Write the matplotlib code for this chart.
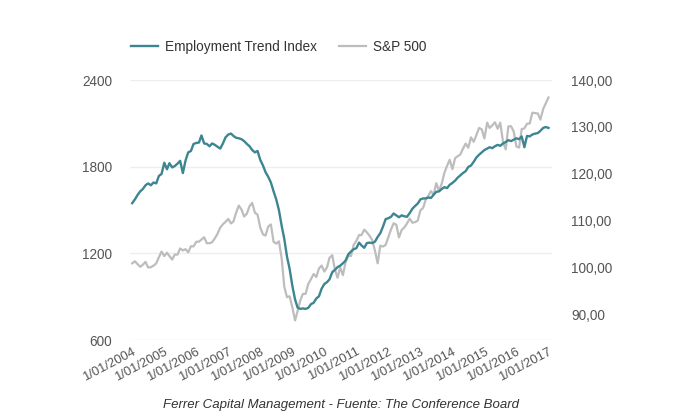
import pandas as pd
import matplotlib
matplotlib.use("Agg")
import matplotlib.pyplot as plt

plt.rcParams['font.family'] = ['Liberation Sans', 'DejaVu Sans']

# monthly data, Jan 2004 .. Jan 2017
dates = pd.date_range("2004-01-01", periods=157, freq="MS")

sp500 = [
    1131, 1145, 1126, 1107, 1121, 1141, 1102, 1104, 1115, 1130, 1174, 1212,
    1181, 1204, 1181, 1157, 1192, 1191, 1234, 1220, 1229, 1207, 1249, 1248,
    1280, 1281, 1295, 1311, 1270, 1270, 1277, 1304, 1336, 1378, 1401, 1418,
    1438, 1407, 1421, 1482, 1531, 1503, 1455, 1474, 1527, 1549, 1481, 1468,
    1379, 1331, 1323, 1386, 1400, 1280, 1267, 1283, 1166, 969, 896, 903,
    826, 735, 798, 873, 919, 919, 987, 1021, 1057, 1036, 1096, 1115,
    1074, 1104, 1169, 1187, 1089, 1031, 1102, 1049, 1141, 1183, 1181, 1258,
    1286, 1327, 1326, 1364, 1345, 1321, 1292, 1219, 1131, 1253, 1247, 1258,
    1312, 1366, 1408, 1398, 1310, 1362, 1379, 1407, 1441, 1412, 1416, 1426,
    1498, 1515, 1569, 1598, 1631, 1606, 1686, 1633, 1682, 1757, 1806, 1848,
    1783, 1859, 1872, 1884, 1924, 1960, 1931, 2003, 1972, 2018, 2068, 2059,
    1995, 2105, 2068, 2086, 2107, 2063, 2104, 1972, 1920, 2079, 2080, 2044,
    1940, 1932, 2060, 2065, 2097, 2099, 2174, 2171, 2168, 2126, 2199, 2239,
    2279,
]

eti = [
    113.8, 114.6, 115.5, 116.3, 116.8, 117.6, 118.0, 117.6, 118.2, 118.0, 119.6, 120.0,
    122.4, 121.0, 122.3, 121.4, 121.7, 122.2, 122.8, 120.2, 122.9, 124.6, 124.9, 126.4,
    126.6, 126.7, 128.2, 126.5, 126.4, 125.9, 126.5, 126.2, 125.8, 125.4, 126.5, 127.8,
    128.4, 128.6, 128.1, 127.7, 127.6, 127.4, 127.0, 126.4, 125.9, 125.1, 124.6, 124.9,
    123.0, 121.8, 120.4, 119.4, 118.2, 116.3, 114.6, 112.3, 109.0, 106.2, 102.4, 99.8,
    96.2, 93.3, 91.6, 91.3, 91.4, 91.3, 91.5, 92.3, 92.6, 93.5, 94.0, 95.6,
    96.6, 97.0, 97.6, 99.1, 99.6, 100.2, 100.5, 101.0, 101.6, 102.9, 103.5, 104.0,
    104.2, 105.4, 104.8, 104.3, 105.3, 105.4, 105.3, 105.6, 106.6, 107.4, 108.8, 110.4,
    110.6, 110.9, 111.6, 111.2, 110.8, 111.2, 111.0, 110.9, 111.7, 112.6, 113.2, 113.7,
    114.6, 114.8, 114.8, 115.0, 114.9, 115.6, 116.2, 116.3, 116.8, 117.2, 117.0, 117.7,
    118.1, 118.6, 119.2, 119.7, 120.2, 120.6, 121.5, 121.8, 122.6, 123.5, 124.1, 124.6,
    125.1, 125.4, 125.7, 125.5, 125.9, 126.2, 126.0, 126.5, 126.8, 127.2, 127.0, 127.3,
    127.6, 127.4, 128.0, 125.7, 128.1, 128.0, 128.4, 128.6, 128.7, 129.2, 129.8, 130.0,
    129.8,
]

tick_years = list(range(2004, 2018))
tick_labels = ["1/01/%d" % y for y in tick_years]
left_ticks = [600, 1200, 1800, 2400]
right_ticks = [90, 100, 110, 120, 130, 140]

teal = "#3c8591"
grey = "#bdbdbd"
txt = "#555555"

fig = plt.figure(figsize=(6.8, 4.2), dpi=100)
ax = fig.add_axes([130 / 680, 80 / 420, 422 / 680, 260 / 420])
ax2 = ax.twinx()

l2, = ax.plot(dates, sp500, color=grey, lw=1.6, label="S&P 500")
l1, = ax2.plot(dates, eti, color=teal, lw=1.7, label="Employment Trend Index")

ax.set_ylim(600, 2400)
ax.set_yticks(left_ticks)
ax.set_yticklabels([str(v) for v in left_ticks])
ax2.set_ylim(84.68, 140)
ax2.set_yticks(right_ticks)
ax2.set_yticklabels(["%d,00" % v for v in right_ticks])

ax.set_xlim(dates[0] - pd.Timedelta(days=25), dates[-1] + pd.Timedelta(days=40))
xt = [pd.Timestamp("%d-01-01" % y) for y in tick_years]
ax.set_xticks(xt)
ax.set_xticklabels(tick_labels, rotation=28, ha="right", rotation_mode="anchor")

ax.grid(axis="y", color="#eeeeee", lw=1)
ax.set_axisbelow(True)
for a in (ax, ax2):
    for s in a.spines.values():
        s.set_visible(False)
ax.tick_params(axis="both", length=0, colors=txt, labelsize=9.8)
ax.tick_params(axis="y", pad=13)
ax.tick_params(axis="x", pad=4, labelsize=9.4)
ax2.tick_params(axis="y", length=0, colors=txt, labelsize=9.8, pad=14)

fig.legend(handles=[l1, l2], loc="center left", bbox_to_anchor=(119 / 680, 1 - 47 / 420),
           ncol=2, frameon=False, fontsize=9.8, handlelength=2.0, handletextpad=0.5,
           columnspacing=1.6, labelcolor="#333333")

fig.text(341 / 680, 1 - 405 / 420, "Ferrer Capital Management - Fuente: The Conference Board",
         ha="center", va="center", style="italic", fontsize=9.5, color="#333333")

fig.savefig("out.png", dpi=100)
